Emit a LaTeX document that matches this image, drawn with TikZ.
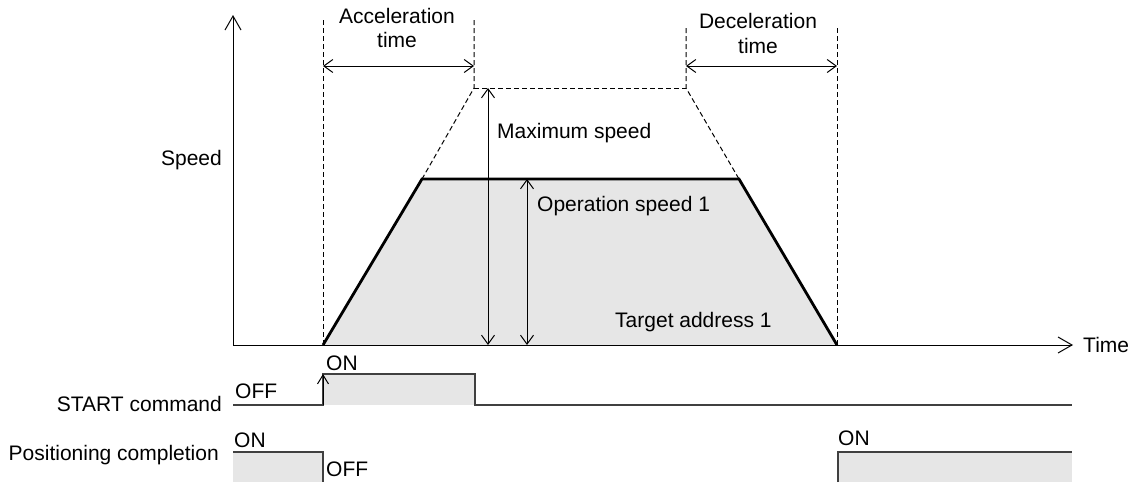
\documentclass[tikz,border=0pt]{standalone}
\usepackage{fontspec}
\setmainfont{Liberation Sans}
\usetikzlibrary{arrows.meta}
\definecolor{fillgray}{HTML}{E6E6E6}
\definecolor{siggray}{HTML}{404040}
\begin{document}
\begin{tikzpicture}[x=1pt,y=-1pt,
  lbl/.style={font=\fontsize{21}{25}\selectfont, inner sep=0pt},
  axisline/.style={line width=1pt, -{Straight Barb[length=14pt,width=16pt]}},
  dimline/.style={line width=1pt, {Straight Barb[length=9pt,width=13pt]}-{Straight Barb[length=9pt,width=13pt]}},
  upline/.style={line width=1pt, -{Straight Barb[length=9pt,width=11pt]}},
  guide/.style={line width=1pt, dash pattern=on 5pt off 3pt},
  profile/.style={line width=2.8pt, line join=miter},
  signal/.style={line width=1.3pt, siggray},
  pulse/.style={fill=fillgray}
]
\useasboundingbox (0,0) rectangle (1131,482);

% key points
\coordinate (O) at (233,345);
\coordinate (ytop) at (233,15);
\coordinate (xend) at (1073,345);
\coordinate (A) at (323,345);
\coordinate (B) at (422,179);
\coordinate (C) at (739,179);
\coordinate (D) at (837,345);
\coordinate (Atop) at (323,20);
\coordinate (E) at (474,88);
\coordinate (Etop) at (474,20);
\coordinate (F) at (686,88);
\coordinate (Ftop) at (686,28);
\coordinate (Dtop) at (837,28);
\coordinate (accL) at (323,66);
\coordinate (accR) at (474,66);
\coordinate (decL) at (686,66);
\coordinate (decR) at (837,66);
\coordinate (maxT) at (488,88);
\coordinate (maxB) at (488,345);
\coordinate (opT) at (527,179);
\coordinate (opB) at (527,345);

% profile fill
\fill[fillgray] (A) -- (B) -- (C) -- (D) -- cycle;

% guide dashed lines
\draw[guide] (Atop) -- (A);
\draw[guide] (Etop) -- (E) -- (B);
\draw[guide] (E) -- (F);
\draw[guide] (Ftop) -- (F) -- (C);
\draw[guide] (Dtop) -- (D);

% axes
\draw[axisline] (O) -- (ytop);
\draw[axisline] (O) -- (xend);

% profile outline
\draw[profile] (A) -- (B) -- (C) -- (D);

% dimension arrows
\draw[dimline] (accL) -- (accR);
\draw[dimline] (decL) -- (decR);
\draw[dimline] (maxT) -- (maxB);
\draw[dimline] (opT) -- (opB);

% labels
\node[lbl, anchor=base] (acc1) at (397,23) {Acceleration};
\node[lbl, anchor=base] (acc2) at (397,47) {time};
\node[lbl, anchor=base] (dec1) at (758,28) {Deceleration};
\node[lbl, anchor=base] (dec2) at (758,53) {time};
\node[lbl, anchor=base east] (speed) at (222,165) {Speed};
\node[lbl, anchor=base west] (maxs) at (497,138) {Maximum speed};
\node[lbl, anchor=base west] (ops) at (537,211) {Operation speed 1};
\node[lbl, anchor=base west] (tgt) at (615,327) {Target address 1};
\node[lbl, anchor=base west] (time) at (1083,352) {Time};

% START command signal
\coordinate (s0) at (233,405);
\coordinate (s1) at (323,405);
\coordinate (s2) at (323,374);
\coordinate (s3) at (475,374);
\coordinate (s4) at (475,405);
\coordinate (s5) at (1072,405);
\fill[pulse] (s1) rectangle (s3);
\draw[signal] (s0) -- (s1) -- (s2) -- (s3) -- (s4) -- (s5);
\draw[upline] (s1) -- (s2);
\node[lbl, anchor=base west] (son) at (326,370) {ON};
\node[lbl, anchor=base west] (soff) at (235,398) {OFF};
\node[lbl, anchor=base east] (startlbl) at (222,411) {START command};

% Positioning completion signal
\coordinate (p0) at (233,452);
\coordinate (p1) at (323,452);
\coordinate (p2) at (323,482);
\coordinate (p3) at (838,482);
\coordinate (p4) at (838,452);
\coordinate (p5) at (1072,452);
\coordinate (p6) at (1072,482);
\fill[pulse] (p0) rectangle (p2);
\fill[pulse] (p4) rectangle (p6);
\draw[signal] (p0) -- (p1) -- (p2);
\draw[signal] (p3) -- (p4) -- (p5);
\node[lbl, anchor=base west] (pon1) at (234,447) {ON};
\node[lbl, anchor=base west] (poff) at (326,476) {OFF};
\node[lbl, anchor=base west] (pon2) at (838,445) {ON};
\node[lbl, anchor=base east] (poslbl) at (219,460) {Positioning completion};
\end{tikzpicture}
\end{document}
